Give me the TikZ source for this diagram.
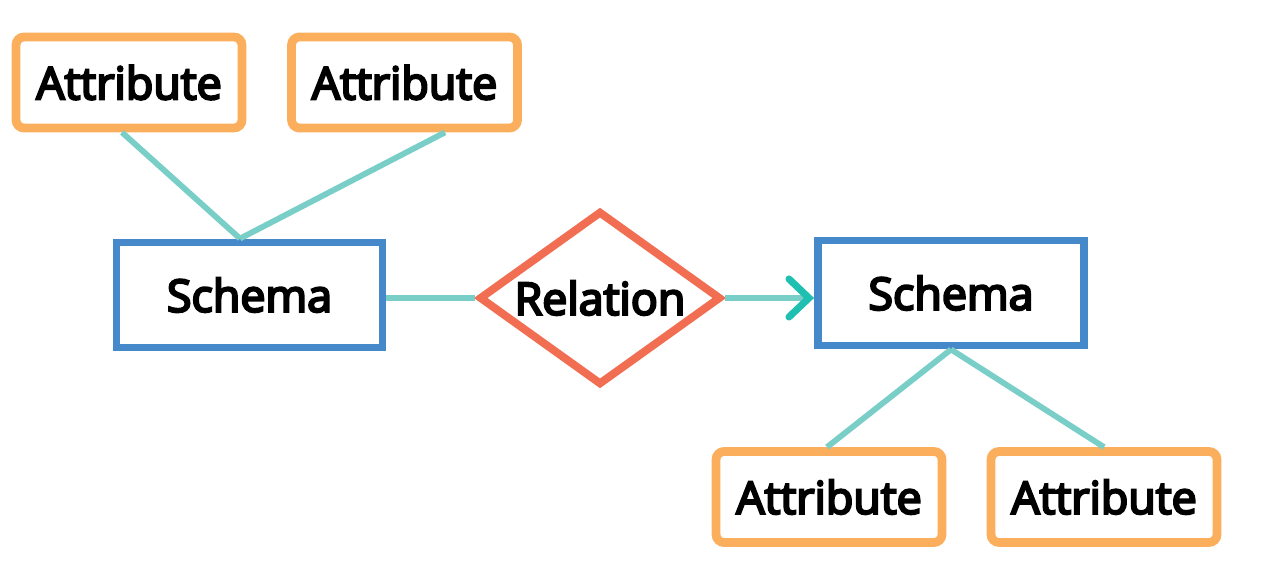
\documentclass[tikz,border=0pt]{standalone}
\usepackage{fontspec}
\setmainfont{Open Sans}
\newfontfamily\labelfont{Open Sans}[FakeBold=5]
\usetikzlibrary{arrows, arrows.meta}
\usetikzlibrary{shapes}
\definecolor{attrorange}{HTML}{FBAE5C}
\definecolor{schemablue}{HTML}{4689CA}
\definecolor{relred}{HTML}{F16E52}
\definecolor{linkteal}{HTML}{7ACEC8}
\definecolor{tipteal}{HTML}{1FBFB2}
\tikzset{
  attr/.style={draw=attrorange, line width=5pt, rounded corners=0.16cm, minimum width=4.52cm, minimum height=1.82cm, font=\fontsize{25.5}{30}\labelfont},
  schema/.style={draw=schemablue, line width=4.5pt, minimum width=5.32cm, minimum height=2.1cm, font=\fontsize{25.5}{30}\labelfont},
  rel/.style={diamond, draw=relred, line width=4.5pt, aspect=1.39, inner sep=0pt, minimum width=4.84cm, minimum height=3.48cm, font=\fontsize{25.5}{30}\labelfont},
  link/.style={draw=linkteal, line width=3.3pt}
}
\begin{document}
\begin{tikzpicture}[x=0.02cm, y=-0.02cm]
      \useasboundingbox (0,0) rectangle (1283,577);
      \node[attr] (attrA) at (129,82.5) {Attribute};
      \node[attr] (attrB) at (404.5,82.5) {Attribute};
      \node[schema] (schemaL) at (249.5,295) {Schema};
      \node[rel] (relation) at (600,298) {Relation};
      \node[schema] (schemaR) at (951,293) {Schema};
      \node[attr] (attrC) at (829,497) {Attribute};
      \node[attr] (attrD) at (1104,497) {Attribute};
      \draw[link] ([xshift=-0.14cm]attrA.south) -- ([xshift=-0.19cm]schemaL.north);
      \draw[link] ([xshift=0.81cm]attrB.south) -- ([xshift=-0.19cm]schemaL.north);
      \draw[link] (schemaL.east |- relation.west) -- (relation.west);
      \draw[link, -{Straight Barb[color=tipteal, length=0.4cm, width=0.76cm, line width=4pt, line cap=round]}] (relation.east) -- (relation.east -| schemaR.west);
      \draw[link] (schemaR.south) -- ([xshift=-0.04cm]attrC.north);
      \draw[link] (schemaR.south) -- (attrD.north);
\end{tikzpicture}
\end{document}
